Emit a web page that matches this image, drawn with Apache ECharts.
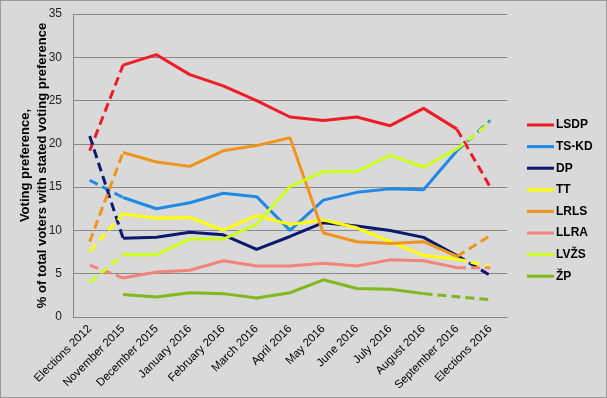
<html>
<head>
<title>Voting preference</title>
<style type="text/css">
body{
	margin:0;
	background-color:#d9d9d9;
}
#chart{
	width:605px;
	height:396px;
	border:1px solid #9a9a9a;
	background-color:#d9d9d9;
}
</style>
<script src="https://cdn.jsdelivr.net/npm/echarts@6/dist/echarts.min.js"></script>
</head>
<body>
	<div id="chart"></div>
	<script type="text/javascript">
	var months = ['Elections 2012','November 2015','December 2015','January 2016','February 2016','March 2016',
		'April 2016','May 2016','June 2016','July 2016','August 2016','September 2016','Elections 2016'];
	var yTicks = [0, 5, 10, 15, 20, 25, 30, 35];

	var parties = ['LSDP','TS-KD','DP','TT','LRLS','LLRA','LVŽS','ŽP'];
	var colors = ['#ee1c25','#1f8ae6','#0b1a6e','#ffff00','#f0951c','#f4847a','#ccff1a','#80b91e'];

	var lsdp = [19.2, 29.1, 30.3, 28.0, 26.7, 25.0, 23.1, 22.7, 23.1, 22.1, 24.1, 21.7, 15.0];
	var tskd = [15.8, 13.8, 12.5, 13.2, 14.3, 13.9, 10.0, 13.5, 14.4, 14.8, 14.7, 19.2, 22.7];
	var dp   = [20.9,  9.1,  9.2,  9.8,  9.5,  7.8,  9.3, 10.9, 10.5, 10.0,  9.2,  7.1,  4.8];
	var tt   = [ 7.6, 11.9, 11.4, 11.5, 10.0, 11.7, 10.7, 11.2, 10.3,  8.7,  7.1,  6.7,  5.8];
	var lrls = [ 8.7, 19.0, 17.9, 17.4, 19.2, 19.8, 20.7,  9.7,  8.7,  8.5,  8.7,  7.0,  9.4];
	var llra = [ 6.0,  4.5,  5.2,  5.4,  6.5,  5.9,  5.9,  6.2,  5.9,  6.6,  6.5,  5.7,  5.7];
	var lvzs = [ 4.0,  7.2,  7.2,  9.0,  9.0, 10.7, 15.1, 16.8, 16.8, 18.7, 17.3, 19.4, 22.5];
	var zp   = [null, 2.6,  2.3,  2.8,  2.7,  2.2,  2.8,  4.3,  3.3,  3.2,  2.7,  2.35, 2.0];
	var values = [lsdp, tskd, dp, tt, lrls, llra, lvzs, zp];
	// last index of the solid part; after it the line is dashed
	var solidEnd = [11, 11, 11, 11, 11, 11, 11, 10];

	var series = [];
	for (var i = 0; i < parties.length; i++) {
		var solid = [], dashed = [];
		for (var j = 0; j < months.length; j++) {
			var v = values[i][j];
			solid.push(j >= 1 && j <= solidEnd[i] ? v : null);
			dashed.push(j <= 1 || j >= solidEnd[i] ? v : null);
		}
		series.push({
			name: parties[i], type: 'line', data: solid, symbol: 'none',
			lineStyle: {width: 3, color: colors[i]}, itemStyle: {color: colors[i]}
		});
		series.push({
			name: parties[i], type: 'line', data: dashed, symbol: 'none',
			lineStyle: {width: 3, color: colors[i], type: [9, 5]}, itemStyle: {color: colors[i]}
		});
	}

	var myChart = echarts.init(document.getElementById('chart'));
	var option = {
		backgroundColor: '#d9d9d9',
		animation: false,
		grid: {left: 72, right: 99, top: 13, bottom: 80, outerBoundsMode: 'none'},
		legend: {
			data: parties,
			orient: 'vertical',
			left: 526,
			top: 118,
			padding: 0,
			icon: 'rect',
			itemWidth: 27,
			itemHeight: 3,
			itemGap: 9.6,
			textStyle: {fontFamily: 'Liberation Sans', fontWeight: 'bold', fontSize: 12, color: '#000', padding: [0, 0, 0, -3]}
		},
		xAxis: {
			type: 'category',
			data: months,
			boundaryGap: true,
			axisLine: {lineStyle: {color: '#888'}},
			axisTick: {show: false},
			axisLabel: {rotate: 45, margin: 10, interval: 0, fontFamily: 'Liberation Sans', fontSize: 11.5, color: '#000'}
		},
		yAxis: {
			type: 'value',
			min: yTicks[0],
			max: yTicks[yTicks.length - 1],
			interval: 5,
			name: 'Voting preference,\n% of total voters with stated voting preference',
			nameLocation: 'middle',
			nameRotate: 90,
			nameGap: 22,
			nameMoveOverlap: false,
			nameTextStyle: {fontFamily: 'Liberation Sans', fontWeight: 'bold', fontSize: 13, color: '#000', align: 'center', lineHeight: 17},
			axisLine: {show: true, lineStyle: {color: '#888'}},
			axisTick: {show: false},
			splitLine: {lineStyle: {color: '#888'}},
			axisLabel: {margin: 11, fontFamily: 'Liberation Sans', fontSize: 12, color: '#222'}
		},
		series: series
	};
	myChart.setOption(option);
	</script>
</body>
</html>
